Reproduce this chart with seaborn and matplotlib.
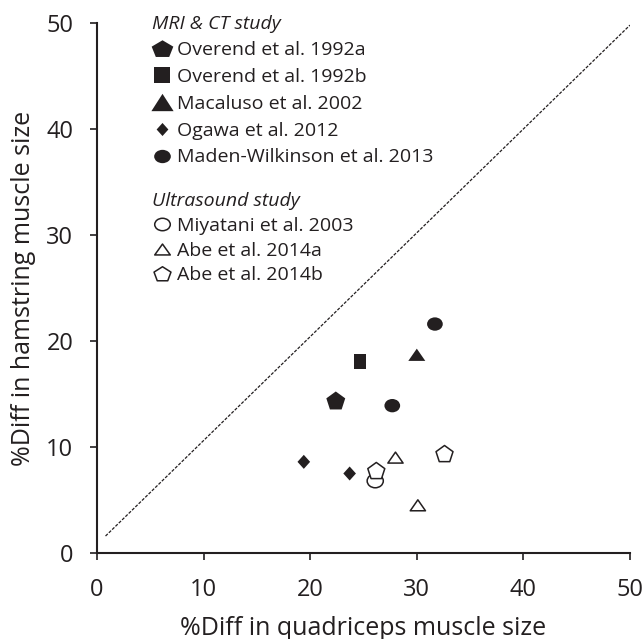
import matplotlib
matplotlib.use("Agg")
import pandas as pd
import matplotlib.pyplot as plt
import seaborn as sns
from matplotlib.lines import Line2D
from matplotlib.path import Path
from matplotlib.transforms import Affine2D

# ---- data ----
mri_study = ["Overend et al. 1992a", "Overend et al. 1992b", "Macaluso et al. 2002",
             "Ogawa et al. 2012", "Ogawa et al. 2012",
             "Maden-Wilkinson et al. 2013", "Maden-Wilkinson et al. 2013"]
mri_quad = [22.4, 24.7, 30.0, 19.4, 23.7, 31.7, 27.7]
mri_ham = [14.3, 18.1, 18.7, 8.6, 7.5, 21.6, 13.9]

us_study = ["Miyatani et al. 2003", "Abe et al. 2014a", "Abe et al. 2014a",
            "Abe et al. 2014b", "Abe et al. 2014b"]
us_quad = [26.1, 28.0, 30.1, 26.2, 32.6]
us_ham = [6.8, 9.0, 4.5, 7.7, 9.3]

mri_order = ["Overend et al. 1992a", "Overend et al. 1992b", "Macaluso et al. 2002",
             "Ogawa et al. 2012", "Maden-Wilkinson et al. 2013"]
us_order = ["Miyatani et al. 2003", "Abe et al. 2014a", "Abe et al. 2014b"]

# line of identity (as drawn)
ref_x = [0.8, 50.0]
ref_y = [1.6, 49.8]

ticks = [0, 10, 20, 30, 40, 50]

INK = "#231f20"


def poly(pts):
    return Path(pts + [pts[0]], closed=True)


def squash(path, sy):
    return path.transformed(Affine2D().scale(1.0, sy))


pentagon = Path.unit_regular_polygon(5)

# markers for the data points
ellipse = squash(Path.unit_circle(), 0.85)
flat_tri = poly([(0, 0.72), (-1, -0.72), (1, -0.72)])
tall_sq = poly([(-0.82, -1), (0.82, -1), (0.82, 1), (-0.82, 1)])
diamond = poly([(0, 1), (0.9, 0), (0, -1), (-0.9, 0)])

mri_markers = dict(zip(mri_order, ["p", tall_sq, flat_tri, diamond, ellipse]))
mri_sizes = dict(zip(mri_order, [205, 117, 150, 102, 128]))
us_markers = dict(zip(us_order, [ellipse, flat_tri, "p"]))
us_sizes = dict(zip(us_order, [135, 120, 165]))

# the legend symbols are drawn a little wider than the data symbols
leg1_markers = [squash(pentagon, 0.81), poly([(-1, -0.94), (1, -0.94), (1, 0.94), (-1, 0.94)]),
                poly([(0, 0.78), (-1, -0.78), (1, -0.78)]), diamond, squash(Path.unit_circle(), 0.8)]
leg1_ms = [15.6, 11.5, 16.0, 9.4, 12.0]
leg2_markers = [squash(Path.unit_circle(), 0.8), poly([(0, 0.7), (-1, -0.7), (1, -0.7)]),
                squash(pentagon, 0.87)]
leg2_ms = [11.2, 11.2, 12.2]

mri = pd.DataFrame({"study": mri_study, "quad": mri_quad, "ham": mri_ham})
us = pd.DataFrame({"study": us_study, "quad": us_quad, "ham": us_ham})

sns.set_style("ticks")
plt.rcParams["font.family"] = ["Open Sans", "DejaVu Sans"]

fig = plt.figure(figsize=(6.43, 6.39), dpi=100)
ax = fig.add_axes([97 / 643, 86 / 639, 533 / 643, 530 / 639])

ax.plot(ref_x, ref_y, color=INK, lw=0.9, ls=(0, (2.5, 1.2)))

sns.scatterplot(data=mri, x="quad", y="ham", style="study", style_order=mri_order,
                markers=mri_markers, size="study", size_order=mri_order, sizes=mri_sizes,
                color=INK, edgecolor="none", linewidth=0, legend=False, ax=ax, zorder=3)
sns.scatterplot(data=us, x="quad", y="ham", style="study", style_order=us_order,
                markers=us_markers, size="study", size_order=us_order, sizes=us_sizes,
                color=INK, facecolor="white", edgecolor=INK, linewidth=1.1,
                legend=False, ax=ax, zorder=3)

ax.set_xlim(0, 50)
ax.set_ylim(0, 50)
ax.set_xticks(ticks)
ax.set_yticks(ticks)
sns.despine(ax=ax)
for s in ["left", "bottom"]:
    ax.spines[s].set_linewidth(1.5)
    ax.spines[s].set_color(INK)
ax.tick_params(axis="both", direction="out", length=5, width=1.2, color=INK,
               labelsize=17, labelcolor=INK)
ax.tick_params(axis="y", pad=12)
ax.tick_params(axis="x", pad=13)

ax.set_xlabel("%Diff in quadriceps muscle size", fontsize=18, color=INK)
ax.set_ylabel("%Diff in hamstring muscle size", fontsize=18, color=INK)
ax.xaxis.set_label_coords(0.5, -0.118)
ax.yaxis.set_label_coords(-0.115, 0.5)


def make_handles(markers, sizes, filled):
    hs = []
    for m, ms in zip(markers, sizes):
        if filled:
            hs.append(Line2D([], [], ls="none", marker=m, ms=ms, mfc=INK, mec=INK, mew=0))
        else:
            hs.append(Line2D([], [], ls="none", marker=m, ms=ms, mfc="white", mec=INK, mew=1.1))
    return hs


leg_kw = dict(loc="upper left", frameon=False, borderpad=0, borderaxespad=0,
              handlelength=1.08, handletextpad=0.2, prop={"size": 14},
              alignment="left", labelcolor=INK)

leg1 = ax.legend(handles=make_handles(leg1_markers, leg1_ms, True), labels=mri_order,
                 bbox_to_anchor=(0.103, 1.0157), labelspacing=0.45, **leg_kw)
leg1.set_title("MRI & CT study", prop={"size": 14, "style": "italic"})
leg1.get_title().set_color(INK)
ax.add_artist(leg1)

leg2 = ax.legend(handles=make_handles(leg2_markers, leg2_ms, False), labels=us_order,
                 bbox_to_anchor=(0.103, 0.681), labelspacing=0.35, **leg_kw)
leg2.set_title("Ultrasound study", prop={"size": 14, "style": "italic"})
leg2.get_title().set_color(INK)

fig.savefig("out.png", dpi=100)
